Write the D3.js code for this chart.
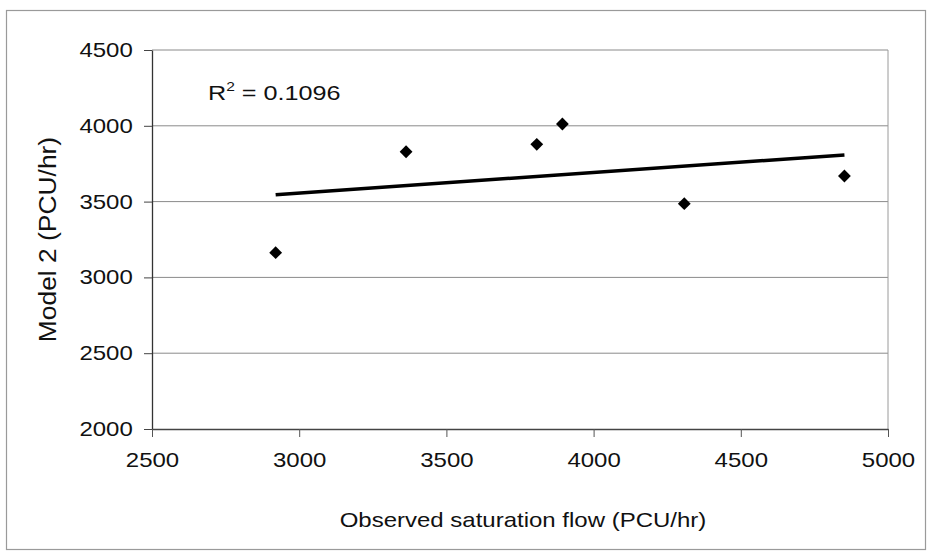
<!DOCTYPE html>
<html>
<head>
<meta charset="utf-8">
<script src="https://cdn.jsdelivr.net/npm/d3@7/dist/d3.min.js"></script>
<style>
  html, body { margin: 0; padding: 0; background: #fff; }
  text { font-family: "Liberation Sans", Arial, sans-serif; fill: #111; }
</style>
</head>
<body>
<svg id="chart" width="929" height="555"></svg>
<script>
// Data
const observed = [2920, 3363, 3807, 3894, 4308, 4852];
const model2   = [3163, 3829, 3878, 4012, 3486, 3669];
const xTicks = [2500, 3000, 3500, 4000, 4500, 5000];
const yTicks = [2000, 2500, 3000, 3500, 4000, 4500];
const r2Label = "0.1096";
const xTitle = "Observed saturation flow (PCU/hr)";
const yTitle = "Model 2 (PCU/hr)";

const svg = d3.select("#chart");
const plot = { left: 152, right: 888, top: 50, bottom: 429 };
const SX = 1.2; // horizontal stretch of the scanned text
const FS = 20;

// Outer frame
svg.append("rect")
  .attr("x", 6.5).attr("y", 10.5)
  .attr("width", 919).attr("height", 539)
  .attr("fill", "none").attr("stroke", "#9a9a9a").attr("stroke-width", 1.2);

const x = d3.scaleLinear().domain([2500, 5000]).range([plot.left, plot.right]);
const y = d3.scaleLinear().domain([2000, 4500]).range([plot.bottom, plot.top]);

// Gridlines
svg.append("g").selectAll("line").data(yTicks.filter(d => d > 2000)).join("line")
  .attr("x1", plot.left).attr("x2", plot.right)
  .attr("y1", d => y(d)).attr("y2", d => y(d))
  .attr("stroke", "#8a8a8a").attr("stroke-width", 1);

// Right border
svg.append("line")
  .attr("x1", plot.right).attr("x2", plot.right)
  .attr("y1", plot.top).attr("y2", plot.bottom)
  .attr("stroke", "#9a9a9a").attr("stroke-width", 1);

// Y axis
const yAxis = svg.append("g")
  .attr("transform", `translate(${plot.left},0)`)
  .call(d3.axisLeft(y).tickValues(yTicks).tickFormat(d3.format("d")).tickSize(8).tickSizeOuter(0).tickPadding(8));
yAxis.select(".domain").attr("stroke", "#333").attr("stroke-width", 1.3);
yAxis.selectAll(".tick line").attr("stroke", "#444");
yAxis.selectAll("text")
  .attr("font-size", FS).attr("fill", "#111")
  .attr("font-family", "Liberation Sans, Arial, sans-serif")
  .attr("transform", `scale(${SX},1)`);

// X axis
const xAxis = svg.append("g")
  .attr("transform", `translate(0,${plot.bottom})`)
  .call(d3.axisBottom(x).tickValues(xTicks).tickFormat(d3.format("d")).tickSize(8).tickSizeOuter(0).tickPadding(16));
xAxis.select(".domain").attr("stroke", "#444").attr("stroke-width", 1.3);
xAxis.selectAll(".tick line").attr("stroke", "#555");
xAxis.selectAll("text")
  .attr("font-size", FS).attr("fill", "#111")
  .attr("font-family", "Liberation Sans, Arial, sans-serif")
  .attr("transform", `scale(${SX},1)`);

// Linear regression trend line
const n = observed.length;
const mx = d3.mean(observed), my = d3.mean(model2);
let sxy = 0, sxx = 0;
for (let i = 0; i < n; i++) { sxy += (observed[i]-mx)*(model2[i]-my); sxx += (observed[i]-mx)**2; }
const slope = sxy / sxx, icpt = my - slope * mx;
const x0 = d3.min(observed), x1 = d3.max(observed);
svg.append("line")
  .attr("x1", x(x0)).attr("y1", y(icpt + slope * x0))
  .attr("x2", x(x1)).attr("y2", y(icpt + slope * x1))
  .attr("stroke", "#000").attr("stroke-width", 3.5);

// Points (diamonds)
const diamond = d3.symbol().type(d3.symbolSquare).size(82);
svg.append("g").selectAll("path").data(observed.map((v, i) => [v, model2[i]])).join("path")
  .attr("d", diamond)
  .attr("transform", d => `translate(${x(d[0])},${y(d[1])}) rotate(45)`)
  .attr("fill", "#000");

// R^2 label
const r2 = svg.append("text")
  .attr("transform", `translate(208,100) scale(${SX},1)`)
  .attr("font-size", 21);
r2.append("tspan").text("R");
r2.append("tspan").attr("font-size", 13).attr("dy", -9).text("2");
r2.append("tspan").attr("dy", 9).text(" = " + r2Label);

// Axis titles
svg.append("text")
  .attr("transform", `translate(${(plot.left + plot.right) / 2 + 3},527) scale(${SX},1)`)
  .attr("text-anchor", "middle").attr("font-size", 20)
  .text(xTitle);

svg.append("text")
  .attr("transform", `translate(56,${(plot.top + plot.bottom) / 2}) rotate(-90) scale(1.2,1.1)`)
  .attr("text-anchor", "middle").attr("font-size", 22)
  .text(yTitle);
</script>
</body>
</html>
